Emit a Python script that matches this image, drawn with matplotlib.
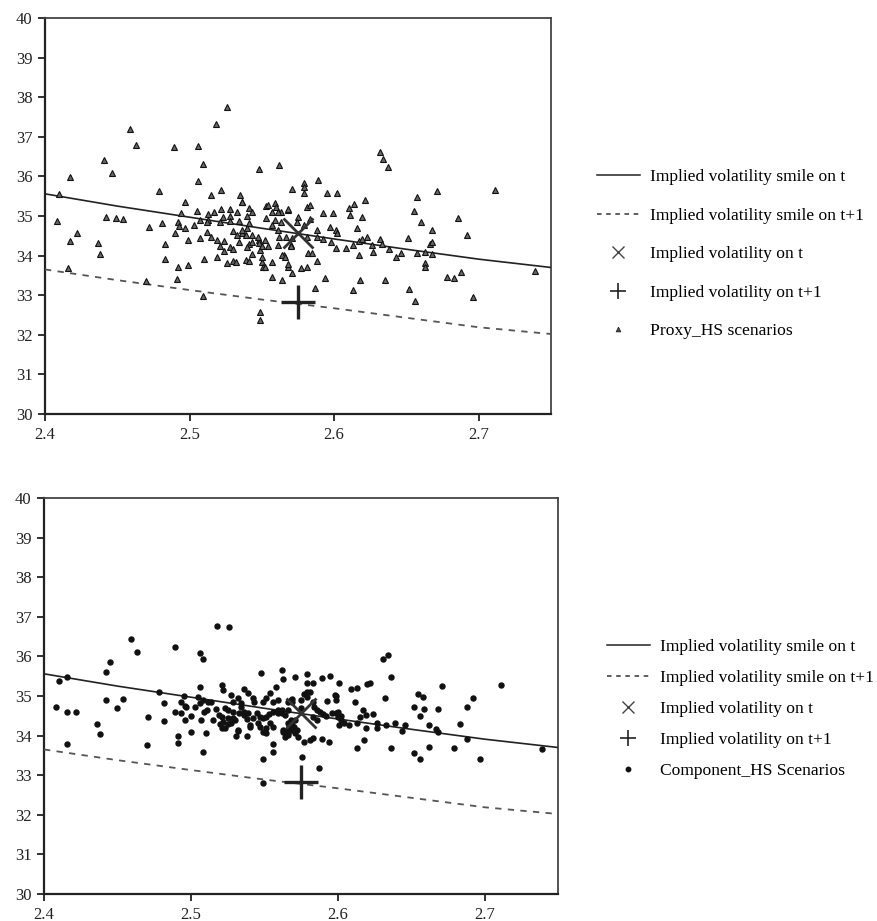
import matplotlib
matplotlib.use("Agg")
import matplotlib.pyplot as plt
from matplotlib.lines import Line2D

plt.rcParams['font.family'] = ['Liberation Serif', 'DejaVu Serif']

# ---------------- data ----------------
strike_grid = [2.40, 2.45, 2.50, 2.55, 2.60, 2.65, 2.70, 2.75]
smile_t = [35.56, 35.25, 34.97, 34.69, 34.42, 34.16, 33.91, 33.70]
smile_t1 = [33.65, 33.38, 33.13, 32.89, 32.67, 32.43, 32.19, 32.02]

iv_t_x, iv_t_y = [2.575], [34.58]
iv_t1_x, iv_t1_y = [2.575], [32.83]

proxy_pts = [
    (2.408, 34.87), (2.410, 35.56), (2.417, 35.98), (2.441, 36.41), (2.446, 36.09), (2.459, 37.20),
    (2.463, 36.79), (2.442, 34.98), (2.449, 34.95), (2.454, 34.92), (2.479, 35.63), (2.489, 36.74),
    (2.506, 36.78), (2.509, 36.31), (2.506, 35.88), (2.518, 37.33), (2.526, 37.75), (2.515, 35.53),
    (2.522, 35.66), (2.497, 35.35), (2.494, 35.07), (2.548, 36.18), (2.562, 36.29), (2.571, 35.67),
    (2.536, 35.36), (2.553, 35.26), (2.559, 35.33), (2.568, 35.15), (2.505, 35.13),
    (2.417, 34.37), (2.422, 34.57), (2.437, 34.32), (2.438, 34.04), (2.416, 33.69), (2.470, 33.36),
    (2.491, 33.41), (2.509, 32.98), (2.512, 34.59), (2.549, 32.58), (2.549, 32.37), (2.550, 33.84),
    (2.551, 33.72), (2.570, 34.27), (2.548, 34.39), (2.543, 34.52), (2.536, 34.57),
    (2.565, 34.02), (2.613, 33.13), (2.613, 34.27), (2.616, 34.69), (2.617, 34.02), (2.618, 33.38),
    (2.617, 34.37), (2.619, 34.42), (2.623, 34.47), (2.626, 34.27), (2.627, 34.09), (2.632, 34.42),
    (2.633, 34.29), (2.635, 33.38), (2.638, 34.17), (2.643, 33.97), (2.646, 34.07), (2.651, 34.44),
    (2.652, 33.16), (2.656, 32.85), (2.657, 34.07), (2.660, 34.85), (2.663, 33.81), (2.663, 33.72),
    (2.663, 34.09), (2.666, 34.29), (2.668, 34.34), (2.668, 34.65), (2.668, 34.04), (2.678, 33.46),
    (2.683, 33.43), (2.688, 33.59), (2.692, 34.52), (2.696, 32.95), (2.739, 33.61),
    (2.632, 36.62), (2.634, 36.44), (2.637, 36.24), (2.621, 35.40), (2.614, 35.30), (2.611, 35.03),
    (2.619, 34.98), (2.563, 35.10), (2.657, 35.48), (2.671, 35.63), (2.711, 35.66), (2.655, 35.13),
    (2.686, 34.95),
    (2.513, 35.05), (2.517, 35.10), (2.522, 35.18), (2.528, 35.18), (2.533, 35.10), (2.541, 35.20),
    (2.543, 35.10), (2.540, 35.00), (2.528, 35.00), (2.523, 34.98), (2.534, 34.87), (2.528, 34.87),
    (2.521, 34.85), (2.513, 34.90), (2.512, 34.85), (2.507, 34.90), (2.503, 34.77), (2.492, 34.85),
    (2.493, 34.75), (2.497, 34.70), (2.481, 34.82), (2.472, 34.72), (2.490, 34.57), (2.507, 34.44),
    (2.499, 34.39), (2.483, 34.29), (2.483, 33.91), (2.492, 33.71), (2.499, 33.76), (2.510, 33.91),
    (2.519, 33.96), (2.526, 33.81), (2.530, 33.86), (2.532, 33.84), (2.539, 33.89), (2.541, 33.86),
    (2.543, 34.04), (2.550, 33.96), (2.552, 33.71), (2.557, 33.46), (2.564, 33.38), (2.571, 33.56),
    (2.577, 33.69), (2.581, 33.71), (2.588, 33.86), (2.594, 33.43), (2.587, 33.18), (2.557, 33.84),
    (2.564, 34.01), (2.566, 33.96), (2.568, 33.71), (2.568, 33.79), (2.515, 34.47), (2.519, 34.39),
    (2.521, 34.24), (2.524, 34.37), (2.524, 34.11), (2.528, 34.22), (2.530, 34.17), (2.534, 34.34),
    (2.530, 34.62), (2.533, 34.52), (2.536, 34.65), (2.539, 34.52), (2.540, 34.70), (2.541, 34.82),
    (2.541, 34.29), (2.543, 34.34), (2.540, 34.22), (2.547, 34.47), (2.548, 34.32), (2.549, 34.14),
    (2.550, 34.24), (2.552, 34.39), (2.554, 34.24), (2.553, 34.95), (2.554, 35.28), (2.560, 35.23),
    (2.557, 35.10), (2.561, 35.10), (2.559, 34.90), (2.557, 34.77), (2.561, 34.65), (2.562, 34.47),
    (2.561, 34.27), (2.563, 34.85), (2.568, 35.18), (2.567, 34.47), (2.571, 34.44), (2.570, 34.24),
    (2.575, 34.97), (2.574, 34.85), (2.579, 34.77), (2.583, 34.92), (2.581, 35.23), (2.583, 35.28),
    (2.579, 35.83), (2.579, 35.73), (2.579, 35.58), (2.589, 35.91), (2.595, 35.58), (2.602, 35.58),
    (2.592, 35.08), (2.599, 35.08), (2.610, 35.20), (2.588, 34.65), (2.588, 34.47), (2.592, 34.42),
    (2.597, 34.72), (2.601, 34.65), (2.602, 34.57), (2.598, 34.34), (2.601, 34.19), (2.608, 34.19),
    (2.582, 34.06), (2.585, 34.06), (2.581, 34.47), (2.535, 35.53), (2.536, 35.35),
]

component_pts = [
    (2.408, 34.72), (2.410, 35.38), (2.416, 35.48), (2.442, 35.61), (2.442, 34.90), (2.445, 35.86),
    (2.450, 34.70), (2.454, 34.92), (2.459, 36.44), (2.463, 36.11), (2.478, 35.10), (2.482, 34.82),
    (2.489, 36.24), (2.495, 35.00), (2.493, 34.85), (2.497, 34.72), (2.506, 36.09), (2.508, 35.93),
    (2.506, 35.23), (2.505, 34.97), (2.506, 34.82), (2.508, 34.90), (2.512, 34.85), (2.518, 36.77),
    (2.526, 36.74), (2.521, 35.28), (2.522, 35.15), (2.527, 35.03), (2.529, 34.85), (2.532, 34.95),
    (2.536, 35.18), (2.539, 35.08), (2.542, 34.95), (2.543, 34.85), (2.548, 35.58), (2.551, 34.95),
    (2.554, 35.08), (2.558, 35.23), (2.562, 35.66), (2.563, 35.43), (2.556, 34.85), (2.566, 34.85),
    (2.571, 35.48), (2.568, 34.90),
    (2.631, 35.93), (2.634, 36.04), (2.636, 35.48), (2.671, 35.25), (2.711, 35.28), (2.692, 34.95),
    (2.688, 34.72), (2.655, 35.05), (2.658, 34.97), (2.632, 34.95), (2.652, 34.72), (2.659, 34.67),
    (2.668, 34.67), (2.620, 35.30), (2.622, 35.33), (2.613, 35.20), (2.609, 35.18), (2.601, 35.33),
    (2.595, 35.51), (2.589, 35.45), (2.583, 35.33), (2.579, 35.33), (2.579, 35.56), (2.612, 34.85),
    (2.599, 35.00), (2.599, 34.90), (2.593, 34.87), (2.579, 35.10), (2.577, 35.05), (2.575, 34.90),
    (2.569, 34.92), (2.583, 34.85),
    (2.416, 34.60), (2.422, 34.60), (2.436, 34.29), (2.438, 34.04), (2.416, 33.79), (2.470, 33.76),
    (2.471, 34.47), (2.482, 34.37), (2.489, 34.60), (2.493, 34.57), (2.491, 33.99), (2.491, 33.81),
    (2.496, 34.39), (2.500, 34.49), (2.500, 34.09), (2.496, 34.75), (2.503, 34.72), (2.507, 34.39),
    (2.508, 33.59), (2.510, 34.06), (2.509, 34.60), (2.515, 34.39), (2.517, 34.67), (2.520, 34.29),
    (2.521, 34.47), (2.523, 34.19), (2.527, 34.32), (2.529, 34.44), (2.525, 34.65), (2.531, 33.99),
    (2.532, 34.11), (2.534, 34.72), (2.538, 33.99), (2.536, 34.52), (2.539, 34.57), (2.542, 34.44),
    (2.540, 34.27), (2.547, 34.47), (2.549, 34.44), (2.546, 34.32), (2.549, 34.09), (2.551, 34.06),
    (2.549, 33.41), (2.549, 32.80), (2.556, 33.79), (2.556, 33.59), (2.556, 34.22), (2.554, 34.32),
    (2.559, 34.57), (2.562, 34.65), (2.564, 34.52), (2.563, 34.09), (2.564, 34.06), (2.566, 34.01),
    (2.571, 34.06), (2.567, 34.24), (2.569, 34.27),
    (2.576, 33.46), (2.587, 33.18), (2.577, 33.84), (2.581, 33.89), (2.583, 33.94), (2.589, 33.91),
    (2.594, 33.84), (2.613, 33.69), (2.618, 33.89), (2.636, 33.69), (2.652, 33.56), (2.656, 33.41),
    (2.662, 33.71), (2.679, 33.69), (2.697, 33.41), (2.739, 33.66), (2.688, 33.91), (2.683, 34.29),
    (2.668, 34.09), (2.667, 34.17), (2.662, 34.27), (2.656, 34.49), (2.646, 34.27), (2.644, 34.11),
    (2.639, 34.32), (2.633, 34.27), (2.627, 34.32), (2.627, 34.19), (2.617, 34.65), (2.615, 34.47),
    (2.619, 34.52), (2.624, 34.55), (2.619, 34.19), (2.613, 34.32), (2.608, 34.27), (2.602, 34.49),
    (2.601, 34.27), (2.599, 34.57), (2.590, 34.55), (2.588, 34.60), (2.583, 34.47), (2.586, 34.39),
    (2.566, 34.32), (2.571, 34.39), (2.563, 34.14), (2.568, 34.14),
    (2.519, 34.52), (2.521, 34.19), (2.522, 34.34), (2.525, 34.44), (2.529, 34.60), (2.523, 34.70),
    (2.534, 34.82), (2.533, 34.57), (2.530, 34.39), (2.536, 34.60), (2.538, 34.42), (2.540, 34.22),
    (2.532, 34.14), (2.525, 34.29), (2.511, 34.65), (2.514, 34.85), (2.549, 34.85), (2.559, 34.90),
    (2.556, 34.60), (2.559, 34.65), (2.562, 34.57), (2.545, 34.57), (2.551, 34.47), (2.553, 34.55),
    (2.547, 34.22), (2.551, 34.19), (2.566, 34.14), (2.566, 34.06), (2.564, 33.97), (2.568, 34.39),
    (2.570, 34.22), (2.572, 34.14), (2.573, 33.97), (2.581, 35.10), (2.579, 34.97), (2.569, 34.85),
    (2.566, 34.65), (2.575, 34.70), (2.584, 34.72), (2.586, 34.65), (2.592, 34.49), (2.596, 34.57),
    (2.600, 34.60), (2.600, 34.47), (2.602, 34.39), (2.604, 34.32), (2.598, 35.03),
]

proxy_x = [p[0] for p in proxy_pts]
proxy_y = [p[1] for p in proxy_pts]
comp_x = [p[0] for p in component_pts]
comp_y = [p[1] for p in component_pts]

x_ticks = [2.4, 2.5, 2.6, 2.7]
x_tick_labels = ['2.4', '2.5', '2.6', '2.7']
y_ticks = list(range(30, 41))

labels_top = ['Implied volatility smile on t', 'Implied volatility smile on t+1',
              'Implied volatility on t', 'Implied volatility on t+1', 'Proxy_HS scenarios']
labels_bot = ['Implied volatility smile on t', 'Implied volatility smile on t+1',
              'Implied volatility on t', 'Implied volatility on t+1', 'Component_HS Scenarios']

# ---------------- figure ----------------
fig = plt.figure(figsize=(8.77, 9.21), dpi=100)
ax1 = fig.add_axes([45/877, 1-414/921, (551-45)/877, (414-18)/921])
ax2 = fig.add_axes([44/877, 1-894/921, (558-44)/877, (894-498)/921])


def style(ax):
    ax.set_xlim(2.4, 2.75)
    ax.set_ylim(30, 40)
    ax.set_xticks(x_ticks)
    ax.set_xticklabels(x_tick_labels)
    ax.set_yticks(y_ticks)
    ax.tick_params(direction='out', length=5, width=1.3, labelsize=12, pad=4, colors='#222')
    for s in ['left', 'bottom']:
        ax.spines[s].set_linewidth(1.6)
        ax.spines[s].set_color('#222')
    for s in ['top', 'right']:
        ax.spines[s].set_linewidth(1.3)
        ax.spines[s].set_color('#444')


def draw(ax, sx, sy, kind):
    ax.plot(strike_grid, smile_t, color='#222', lw=1.2, zorder=3)
    ax.plot(strike_grid, smile_t1, color='#555', lw=1.3, ls=(0, (3.5, 3.5)), zorder=3)
    if kind == 'tri':
        ax.plot(sx, sy, ls='none', marker='^', ms=4.6, mfc='#666', mec='#111', mew=0.8, zorder=4)
    else:
        ax.plot(sx, sy, ls='none', marker='o', ms=3.6, mfc='#111', mec='#111', zorder=4)
    ax.plot(iv_t_x, iv_t_y, ls='none', marker='x', ms=22, mew=2.0, color='#333', zorder=5)
    ax.plot(iv_t1_x, iv_t1_y, ls='none', marker='+', ms=24, mew=2.4, color='#222', zorder=5)


style(ax1)
style(ax2)
draw(ax1, proxy_x, proxy_y, 'tri')
draw(ax2, comp_x, comp_y, 'dot')


def handles(kind):
    h = [Line2D([], [], color='#222', lw=1.1),
         Line2D([], [], color='#333', lw=1.1, ls=(0, (3, 3))),
         Line2D([], [], ls='none', marker='x', ms=9, mew=1.0, color='#444'),
         Line2D([], [], ls='none', marker='+', ms=11, mew=1.2, color='#222')]
    if kind == 'tri':
        h.append(Line2D([], [], ls='none', marker='^', ms=3.5, mfc='#444', mec='#222', mew=0.5))
    else:
        h.append(Line2D([], [], ls='none', marker='o', ms=3.2, color='#111'))
    return h


fig.legend(handles('tri'), labels_top, loc='upper left', bbox_to_anchor=(597/877, 1-169/921),
           frameon=False, fontsize=12.6, handlelength=2.45, handletextpad=0.55,
           labelspacing=1.27, borderpad=0, borderaxespad=0)
fig.legend(handles('dot'), labels_bot, loc='upper left', bbox_to_anchor=(607/877, 1-639/921),
           frameon=False, fontsize=12.6, handlelength=2.45, handletextpad=0.55,
           labelspacing=0.84, borderpad=0, borderaxespad=0)

fig.savefig('out.png', dpi=100)
